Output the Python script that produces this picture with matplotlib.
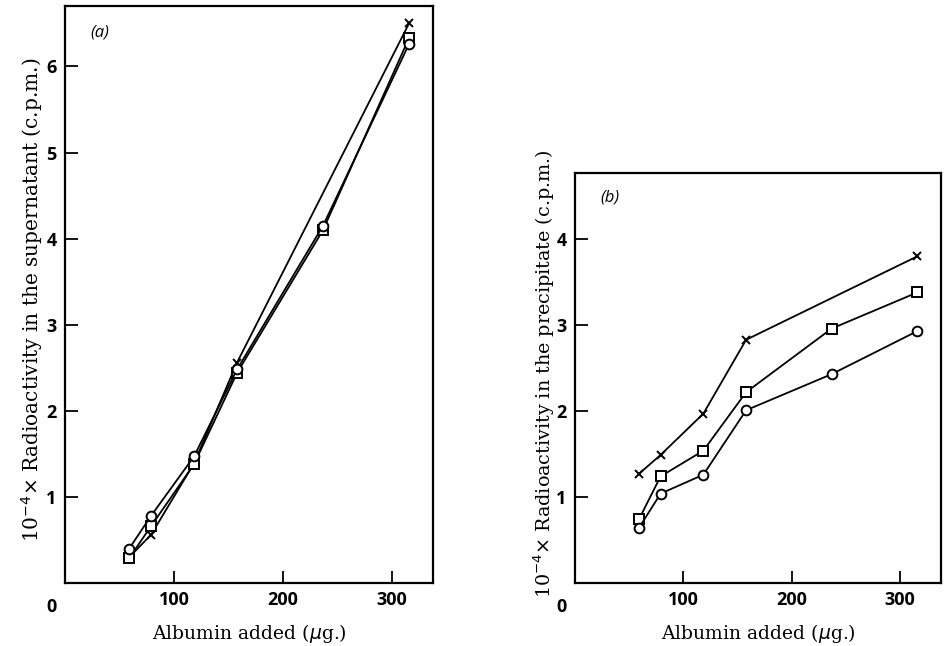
import numpy as np
import matplotlib
matplotlib.use("Agg")
import matplotlib.pyplot as plt

# albumin added (ug)
dose = [59, 79, 118.5, 158, 237, 316]
dose_x = [59, 79, 118.5, 158, 316]   # crosses have no point at 237

# (a) supernatant
sup_cross = [0.30, 0.56, 1.39, 2.56, 6.50]
sup_square = [0.29, 0.66, 1.38, 2.44, 4.10, 6.33]
sup_circle = [0.40, 0.78, 1.47, 2.48, 4.15, 6.26]

# (b) precipitate
ppt_cross = [1.27, 1.49, 1.97, 2.83, 3.80]
ppt_square = [0.74, 1.24, 1.54, 2.22, 2.96, 3.38]
ppt_circle = [0.64, 1.04, 1.26, 2.01, 2.43, 2.93]

xticks = [100, 200, 300]
yticks_a = [1, 2, 3, 4, 5, 6]
yticks_b = [1, 2, 3, 4]

serif = "DejaVu Serif"
tickfont = dict(family="Open Sans", weight="bold", size=13)

fig = plt.figure(figsize=(9.45, 6.46), dpi=100)
ax_a = fig.add_axes([0.0688, 0.0975, 0.3894, 0.893])
ax_b = fig.add_axes([0.6085, 0.0975, 0.3873, 0.6347])


def draw(ax, cross, square, circle, ylim, yticks, ylabel, tag, labpos, labsize):
    kw = dict(color="black", lw=1.3, mfc="white", mec="black", mew=1.4)
    ax.plot(dose_x, cross, marker="x", ms=6, **kw)
    ax.plot(dose, square, marker="s", ms=7, **kw)
    ax.plot(dose, circle, marker="o", ms=7, **kw)
    ax.set_xlim(0, 338)
    ax.set_ylim(*ylim)
    ax.set_xticks(xticks)
    ax.set_yticks(yticks)
    ax.set_xticklabels([str(t) for t in xticks], fontdict=tickfont)
    ax.set_yticklabels([str(t) for t in yticks], fontdict=tickfont)
    ax.tick_params(direction="in", length=9, width=1.3, pad=6)
    for s in ax.spines.values():
        s.set_linewidth(1.6)
    ax.annotate("0", xy=(0, 0), xycoords="axes fraction", xytext=(-10, -17),
                textcoords="offset points", ha="center", va="center", **tickfont)
    ax.set_xlabel(r"Albumin added ($\mu$g.)", family=serif, size=13.5, labelpad=9)
    ax.set_ylabel(r"10$^{-4}$$\times$ Radioactivity in the " + ylabel + " (c.p.m.)",
                  family=serif, size=labsize)
    ax.yaxis.set_label_coords(*labpos)
    ax.text(0.07, tag[1], tag[0], transform=ax.transAxes, style="italic",
            family="Open Sans", size=12, ha="left", va="center")


draw(ax_a, sup_cross, sup_square, sup_circle, (0, 6.7), yticks_a, "supernatant",
     ("(a)", 0.955), (-0.054, 0.49), 14.5)
draw(ax_b, ppt_cross, ppt_square, ppt_circle, (0, 4.77), yticks_b, "precipitate",
     ("(b)", 0.94), (-0.048, 0.51), 13.8)

fig.savefig("out.png", dpi=100)
